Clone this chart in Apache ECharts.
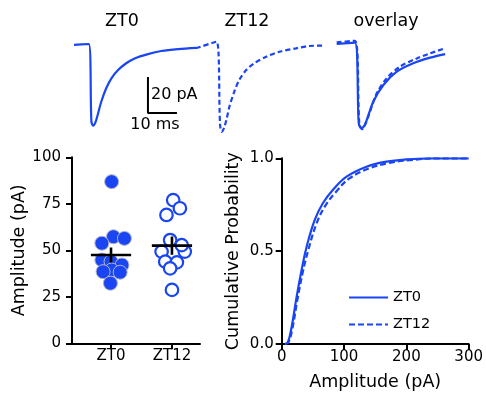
<!DOCTYPE html>
<html>
<head>
<meta charset="utf-8">
<script src="https://cdn.jsdelivr.net/npm/echarts@6/dist/echarts.min.js"></script>
<style>
html,body{margin:0;padding:0;background:#fff;}
#chart{width:486px;height:396px;}
</style>
</head>
<body>
<div id="chart"></div>
<script>
// example traces, time (ms) vs current (pA)
var traceZT0 = [[0,-0.5],[5.1,0],[6.0,-43],[6.6,-45.4],[7.4,-43.5],[8.3,-38.6],[9.4,-32.1],[11.1,-24.6],[12.9,-19.1],[15.2,-14.5],[18.0,-10.7],[20.9,-8.0],[25.5,-5.6],[30.1,-3.9],[35.9,-2.8],[42.2,-2.1]];
var traceZT12 = [[0,-2.4],[7.1,1.3],[8.3,-45],[8.9,-48.8],[9.7,-46.5],[10.6,-41.3],[11.5,-34.9],[13.2,-26.5],[14.9,-20.0],[17.3,-14.5],[20.1,-10.7],[24.2,-7.1],[28.7,-4.3],[34.5,-2.4],[39.1,-1.1],[44.3,-0.9]];
var overlayZT0 = [[0,0],[6.3,0.8],[7.6,-44],[8.5,-46.9],[9.8,-44.6],[12.6,-32.1],[16.1,-22.8],[20.7,-15.4],[26.4,-10.7],[32.2,-7.6],[37.4,-5.6]];
var overlayZT12 = [[0,0.9],[6.3,1.8],[7.8,-44],[8.8,-47.3],[10.0,-44],[11.5,-37.6],[13.8,-27.4],[17.2,-19.1],[21.8,-12.6],[27.6,-8.0],[32.2,-5.2],[37.4,-2.4]];
var scaleBarMs = 10, scaleBarPA = 20;
var scaleBarCorner = [25.5, -38.4];

// amplitudes per cell (pA), x = group position + jitter
var groups = ['ZT0', 'ZT12'];
var ampZT0 = [[1.01,86.9],[1.04,57.3],[1.22,56.4],[0.85,53.8],[0.85,44.8],[1.0,43.9],[1.18,42.1],[1.01,39.4],[0.87,38.5],[1.15,38.2],[0.99,32.3]];
var ampZT12 = [[2.02,77.0],[2.13,72.6],[1.91,69.0],[1.97,55.5],[1.83,49.3],[2.21,49.3],[2.16,52.8],[1.89,43.9],[2.08,43.5],[1.97,40.3],[2.0,28.7]];
var meanSem = [[1,47.5,4.0],[2,52.5,4.9]];

// cumulative distributions
var cumZT0 = [[5,0],[10,0.01],[16,0.093],[24,0.255],[32,0.40],[40,0.524],[53,0.668],[66,0.758],[82,0.829],[104,0.901],[136,0.955],[168,0.982],[200,0.994],[242,1.0],[300,1.0]];
var cumZT12 = [[6,0],[11,0.01],[17,0.08],[25,0.235],[34,0.39],[43,0.51],[56,0.65],[70,0.745],[86,0.815],[108,0.89],[140,0.945],[172,0.975],[205,0.99],[250,1.0],[300,1.0]];

var blue = '#1a45f2';
var font = 'DejaVu Sans';
var myChart = echarts.init(document.getElementById('chart'));

function hiddenAxis(min, max, idx) {
    return { type: 'value', gridIndex: idx, min: min, max: max, show: false };
}
var axisBase = {
    axisLine: { lineStyle: { color: '#000', width: 2 } },
    axisTick: { length: 6, lineStyle: { color: '#000', width: 2 } },
    axisLabel: { color: '#000', fontSize: 15, fontFamily: font },
    splitLine: { show: false },
    nameLocation: 'middle',
    nameTextStyle: { color: '#000', fontSize: 17.5, fontFamily: font }
};
function ax(o) { return echarts.util.merge(echarts.util.clone(axisBase), o, true); }

var scaleBar = [
    [scaleBarCorner[0], scaleBarCorner[1] + scaleBarPA],
    scaleBarCorner,
    [scaleBarCorner[0] + scaleBarMs, scaleBarCorner[1]]
];

var option = {
    backgroundColor: '#fff',
    animation: false,
    textStyle: { fontFamily: font },
    grid: [
        { left: 74, top: 38.6, width: 127.6, height: 95.4 },
        { left: 196, top: 38.6, width: 130.5, height: 95.4 },
        { left: 336.7, top: 38.6, width: 116, height: 95.4 },
        { left: 72, top: 157.3, width: 128, height: 186 },
        { left: 281.7, top: 158.3, width: 187.6, height: 185.7 }
    ],
    xAxis: [
        hiddenAxis(0, 44, 0),
        hiddenAxis(0, 45, 1),
        hiddenAxis(0, 40, 2),
        ax({
            type: 'value', gridIndex: 3, min: 0.36, max: 2.46,
            axisTick: { customValues: [1, 2] },
            axisLabel: { customValues: [1, 2], margin: 5, fontSize: 15,
                formatter: function (v) { return groups[Math.round(v) - 1]; } }
        }),
        ax({
            type: 'value', gridIndex: 4, min: 0, max: 300, interval: 100,
            name: 'Amplitude (pA)', nameGap: 29,
            axisLabel: { margin: 6 }
        })
    ],
    yAxis: [
        hiddenAxis(-50, 3, 0),
        hiddenAxis(-50, 3, 1),
        hiddenAxis(-50, 3, 2),
        ax({
            type: 'value', gridIndex: 3, min: 0, max: 100, interval: 25,
            name: 'Amplitude (pA)', nameGap: 37,
            axisLabel: { margin: 11 }
        }),
        ax({
            type: 'value', gridIndex: 4, min: 0, max: 1, interval: 0.5,
            name: 'Cumulative Probability', nameGap: 39,
            axisLabel: { margin: 8, formatter: function (v) { return v.toFixed(1); } }
        })
    ],
    legend: {
        data: ['ZT0', 'ZT12'],
        orient: 'vertical', left: 343, top: 285,
        itemWidth: 39, itemHeight: 12, itemGap: 12,
        itemStyle: { opacity: 0, borderWidth: 0 },
        textStyle: { color: '#000', fontSize: 14.5, fontFamily: font }
    },
    graphic: [
        { type: 'text', style: { text: 'ZT0', x: 122, y: 21, align: 'center', verticalAlign: 'middle', fontSize: 17.5, fontFamily: font, fill: '#000' } },
        { type: 'text', style: { text: 'ZT12', x: 247, y: 21, align: 'center', verticalAlign: 'middle', fontSize: 17.5, fontFamily: font, fill: '#000' } },
        { type: 'text', style: { text: 'overlay', x: 386, y: 21, align: 'center', verticalAlign: 'middle', fontSize: 17.5, fontFamily: font, fill: '#000' } },
        { type: 'text', style: { text: '20 pA', x: 151, y: 95, align: 'left', verticalAlign: 'middle', fontSize: 16, fontFamily: font, fill: '#000' } },
        { type: 'text', style: { text: '10 ms', x: 155, y: 125, align: 'center', verticalAlign: 'middle', fontSize: 16, fontFamily: font, fill: '#000' } }
    ],
    series: [
        { type: 'line', xAxisIndex: 0, yAxisIndex: 0, data: traceZT0, smooth: 0.3, symbol: 'none',
          lineStyle: { color: blue, width: 2.2 } },
        { type: 'line', xAxisIndex: 0, yAxisIndex: 0, data: scaleBar, symbol: 'none',
          lineStyle: { color: '#000', width: 2 } },
        { type: 'line', xAxisIndex: 1, yAxisIndex: 1, data: traceZT12, smooth: 0.3, symbol: 'none',
          lineStyle: { color: blue, width: 2.2, type: [5, 3] } },
        { type: 'line', xAxisIndex: 2, yAxisIndex: 2, data: overlayZT0, smooth: 0.3, symbol: 'none',
          lineStyle: { color: blue, width: 2.2 } },
        { type: 'line', xAxisIndex: 2, yAxisIndex: 2, data: overlayZT12, smooth: 0.3, symbol: 'none',
          lineStyle: { color: blue, width: 2.2, type: [5, 3] } },
        { type: 'scatter', xAxisIndex: 3, yAxisIndex: 3, data: ampZT0, symbolSize: 14,
          itemStyle: { color: blue, borderColor: '#b4b4c8', borderWidth: 1, opacity: 1 } },
        { type: 'scatter', xAxisIndex: 3, yAxisIndex: 3, data: ampZT12, symbolSize: 12.5,
          itemStyle: { color: '#fff', borderColor: blue, borderWidth: 2.2, opacity: 1 } },
        {
            type: 'custom', xAxisIndex: 3, yAxisIndex: 3, data: meanSem, z: 10,
            renderItem: function (params, api) {
                var x = api.value(0), m = api.value(1), s = api.value(2);
                var l = api.coord([x - 0.33, m]), r = api.coord([x + 0.33, m]);
                var t = api.coord([x, m + s]), b = api.coord([x, m - s]);
                var st = { stroke: '#000', lineWidth: 2.6 };
                return { type: 'group', children: [
                    { type: 'line', shape: { x1: l[0], y1: l[1], x2: r[0], y2: r[1] }, style: st },
                    { type: 'line', shape: { x1: t[0], y1: t[1], x2: b[0], y2: b[1] }, style: st }
                ] };
            }
        },
        { name: 'ZT0', type: 'line', xAxisIndex: 4, yAxisIndex: 4, data: cumZT0, smooth: 0.4, symbol: 'none',
          lineStyle: { color: blue, width: 2.2 }, itemStyle: { color: blue } },
        { name: 'ZT12', type: 'line', xAxisIndex: 4, yAxisIndex: 4, data: cumZT12, smooth: 0.4, symbol: 'none',
          lineStyle: { color: blue, width: 2.2, type: [6, 3] }, itemStyle: { color: blue } }
    ]
};
myChart.setOption(option);
</script>
</body>
</html>
